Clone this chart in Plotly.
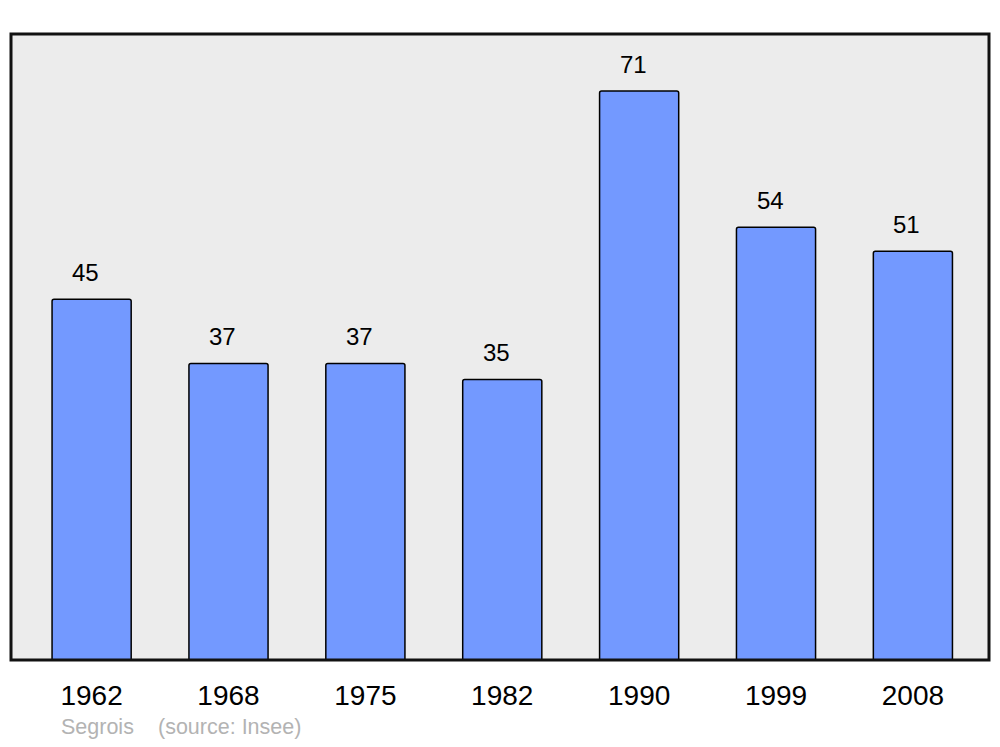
import plotly.graph_objects as go

years = ["1962", "1968", "1975", "1982", "1990", "1999", "2008"]
population = [45, 37, 37, 35, 71, 54, 51]
footer_name = "Segrois"
footer_source = "(source: Insee)"

FONT = "Liberation Sans, Arial, sans-serif"

fig = go.Figure()
fig.add_trace(go.Bar(
    x=years, y=population,
    width=0.578,
    marker=dict(color="#7399FF", line=dict(color="black", width=1.5), cornerradius=2),
    hoverinfo="x+y",
))

for i, v in enumerate(population):
    fig.add_annotation(x=i, y=v, xref="x", yref="y", text=str(v), showarrow=False,
                       yanchor="bottom", yshift=11, xshift=-6,
                       font=dict(family=FONT, size=24, color="black"))

PW, PH = 978, 626
fy = -(727 - 660) / PH
fig.add_annotation(xref="paper", yref="paper", x=(59 - 11) / PW, y=fy,
                   xanchor="left", yanchor="middle", text=footer_name, showarrow=False,
                   font=dict(family=FONT, size=21.5, color="#B3B3B3"))
fig.add_annotation(xref="paper", yref="paper", x=(156 - 11) / PW, y=fy,
                   xanchor="left", yanchor="middle", text=footer_source, showarrow=False,
                   font=dict(family=FONT, size=21.5, color="#B3B3B3"))

fig.add_shape(type="rect", xref="paper", yref="paper", x0=0, y0=0, x1=1, y1=1,
              line=dict(color="#111111", width=3), layer="above")

fig.update_layout(
    width=984, height=731,
    margin=dict(l=3, r=3, t=26, b=79),
    paper_bgcolor="white", plot_bgcolor="#ECECEC",
    showlegend=False,
    xaxis=dict(type="category", range=[-0.589, 6.556], showgrid=False, zeroline=False,
               ticks="outside", ticklen=10, tickcolor="rgba(0,0,0,0)",
               tickfont=dict(family=FONT, size=28, color="black")),
    yaxis=dict(range=[0, 78.1], showgrid=False, zeroline=False, showticklabels=False),
)

fig.write_html("out.html")
